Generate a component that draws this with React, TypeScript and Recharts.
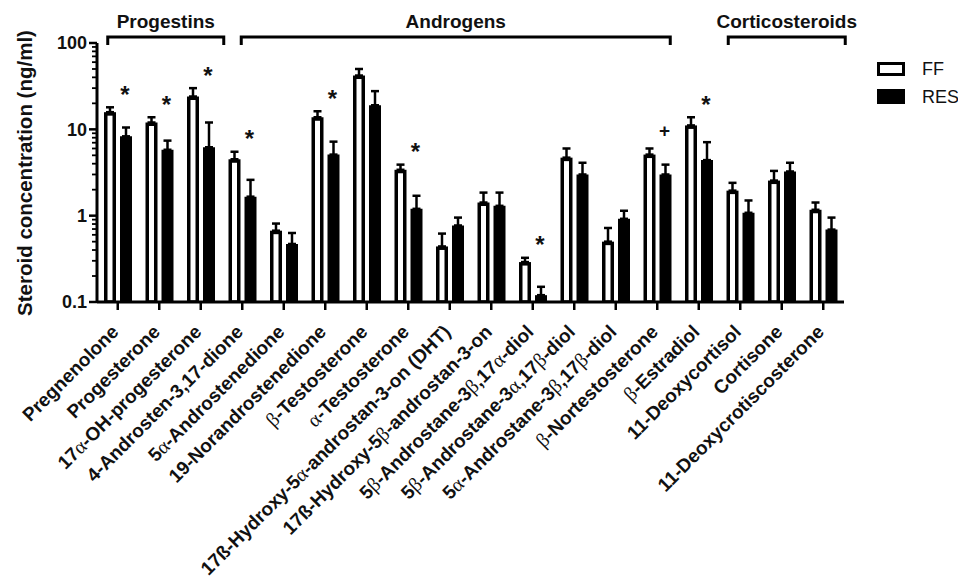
import { BarChart, Bar, XAxis, YAxis, ErrorBar, Legend } from 'recharts';

const categories = [
  'Pregnenolone',
  'Progesterone',
  '17α-OH-progesterone',
  '4-Androsten-3,17-dione',
  '5α-Androstenedione',
  '19-Norandrostenedione',
  'β-Testosterone',
  'α-Testosterone',
  '17ß-Hydroxy-5α-androstan-3-on (DHT)',
  '17ß-Hydroxy-5β-androstan-3-on',
  '5β-Androstane-3β,17α-diol',
  '5β-Androstane-3α,17β-diol',
  '5α-Androstane-3β,17β-diol',
  'β-Nortestosterone',
  'β-Estradiol',
  '11-Deoxycortisol',
  'Cortisone',
  '11-Deoxycrotiscosterone',
];

// ng/ml, mean and upper error (SEM)
const ffMean = [15.8, 12, 24, 4.5, 0.67, 13.8, 42, 3.4, 0.44, 1.42, 0.29, 4.7, 0.5, 5.1, 11.1, 1.95, 2.55, 1.17];
const ffSem = [2.2, 1.8, 6, 1.0, 0.14, 2.4, 8, 0.5, 0.18, 0.43, 0.035, 1.3, 0.22, 0.9, 2.7, 0.45, 0.75, 0.25];
const resMean = [8.3, 5.8, 6.2, 1.66, 0.47, 5.1, 19, 1.2, 0.77, 1.3, 0.12, 3.0, 0.92, 3.0, 4.4, 1.08, 3.25, 0.69];
const resSem = [2.2, 1.6, 5.8, 0.94, 0.16, 2.1, 8.7, 0.5, 0.18, 0.55, 0.03, 1.1, 0.22, 0.9, 2.7, 0.42, 0.85, 0.26];
const sigMarks = ['*', '*', '*', '*', '', '*', '', '*', '', '', '*', '', '', '+', '*', '', '', ''];

const groups = [
  { label: 'Progestins', from: 0, to: 2 },
  { label: 'Androgens', from: 3, to: 13 },
  { label: 'Corticosteroids', from: 15, to: 17 },
];
const bracketPad = [[10, 23], [1, 13], [12, 22]];

const yTicks: number[] = [];
[0.1, 1, 10].forEach((d) => {
  for (let k = 1; k <= 9; k++) yTicks.push(+(k * d).toPrecision(3));
});
yTicks.push(100);

const data = categories.map((name, i) => ({
  name,
  ff: ffMean[i],
  ffErr: [0, ffSem[i]],
  res: resMean[i],
  resErr: [0, resSem[i]],
  sig: sigMarks[i],
}));

const W = 950;
const H = 568;
const margin = { top: 35, right: 114, bottom: 14, left: 9 };
const Y_AXIS_W = 80;
const plotLeft = margin.left + Y_AXIS_W;
const plotRight = W - margin.right;
const band = (plotRight - plotLeft) / categories.length;
const center = (i: number) => plotLeft + (i + 0.5) * band;

const FONT = '"Liberation Sans", Arial, Helvetica, sans-serif';
const GREEK = /([αβ])/;

function XTick(props: any) {
  const { x, y, payload } = props;
  const ax = x + 2;
  const ay = y + 21;
  const parts = String(payload.value).split(GREEK).filter((p) => p !== '');
  return (
    <text
      x={ax}
      y={ay}
      transform={`rotate(-45, ${ax}, ${ay})`}
      textAnchor="end"
      fontFamily={FONT}
      fontWeight="bold"
      fontSize={19}
      fill="#111"
    >
      {parts.map((p, k) =>
        p === 'α' || p === 'β' ? (
          <tspan key={k} fontFamily='"Liberation Serif", "DejaVu Serif", serif' fontWeight="normal" fontSize={20}>
            {p}
          </tspan>
        ) : (
          <tspan key={k}>{p}</tspan>
        )
      )}
    </text>
  );
}

function YTick(props: any) {
  const { x, y, payload } = props;
  const v = payload.value;
  const major = Math.abs(Math.log10(v) - Math.round(Math.log10(v))) < 1e-6;
  const len = major ? 8 : 5;
  return (
    <g>
      <line x1={x - len} x2={x} y1={y} y2={y} stroke="#000" strokeWidth={major ? 2.5 : 1.8} />
      {major && (
        <text x={x - 10} y={y} dy="0.36em" textAnchor="end" fontFamily={FONT} fontWeight="bold" fontSize={18} fill="#111">
          {v}
        </text>
      )}
    </g>
  );
}

function FFShape(props: any) {
  const { x, y, width, height, payload } = props;
  const sw = 3.5;
  const pxPerDec = height / (Math.log10(payload.ff) + 1);
  const errTop = y - pxPerDec * Math.log10((payload.ff + payload.ffErr[1]) / payload.ff);
  const mx = x + width + 9;
  const my = errTop - 18;
  return (
    <g>
      <rect
        x={x + sw / 2}
        y={y + sw / 2}
        width={width - sw}
        height={Math.max(height - sw / 2, 0)}
        fill="#fff"
        stroke="#000"
        strokeWidth={sw}
      />
      {payload.sig === '*' && (
        <text x={mx} y={my + 13.5} textAnchor="middle" fontFamily={FONT} fontWeight="bold" fontSize={24} fill="#111">
          *
        </text>
      )}
      {payload.sig === '+' && (
        <text x={mx} y={my + 6.5} textAnchor="middle" fontFamily={FONT} fontWeight="bold" fontSize={19} fill="#111">
          +
        </text>
      )}
    </g>
  );
}

function LegendBox() {
  return (
    <svg width={110} height={56} style={{ overflow: 'visible', display: 'block' }}>
      <rect x={1.5} y={1.5} width={25} height={11} fill="#fff" stroke="#000" strokeWidth={3} />
      <text x={45} y={7} dy="0.36em" fontFamily={FONT} fontSize={18} fill="#111">FF</text>
      <rect x={0} y={27} width={28} height={15} fill="#000" />
      <text x={45} y={34.5} dy="0.36em" fontFamily={FONT} fontSize={18} fill="#111">RES</text>
    </svg>
  );
}

export default function App() {
  return (
    <div style={{ position: 'relative', width: W, height: H, fontFamily: FONT }}>
      <style>{'.recharts-surface { overflow: visible; }'}</style>
      <BarChart width={W} height={H} data={data} margin={margin} barSize={12} barGap={4}>
        <XAxis
          dataKey="name"
          interval={0}
          height={260}
          tick={<XTick />}
          tickSize={8}
          tickLine={{ stroke: '#000', strokeWidth: 2.5 }}
          axisLine={{ stroke: '#000', strokeWidth: 3 }}
        />
        <YAxis
          scale="log"
          type="number"
          domain={[0.1, 100]}
          allowDataOverflow
          ticks={yTicks}
          interval={0}
          width={Y_AXIS_W}
          tickLine={false}
          tickSize={0}
          tickMargin={0}
          tick={<YTick />}
          axisLine={{ stroke: '#000', strokeWidth: 3 }}
        />
        <Legend
          layout="horizontal"
          verticalAlign="middle"
          align="center"
          content={() => <LegendBox />}
          wrapperStyle={{ top: 54, left: 869, width: 110, height: 56 }}
        />
        <Bar dataKey="ff" name="FF" shape={<FFShape />} isAnimationActive={false}>
          <ErrorBar dataKey="ffErr" direction="y" width={4} strokeWidth={2.5} stroke="#000" />
        </Bar>
        <Bar dataKey="res" name="RES" fill="#000" isAnimationActive={false}>
          <ErrorBar dataKey="resErr" direction="y" width={4} strokeWidth={2.5} stroke="#000" />
        </Bar>
      </BarChart>
      <svg width={W} height={H} style={{ position: 'absolute', left: 0, top: 0, pointerEvents: 'none' }}>
        {groups.map((g, i) => {
          const x1 = center(g.from) - bracketPad[i][0];
          const x2 = center(g.to) + bracketPad[i][1];
          return (
            <g key={g.label}>
              <path d={`M${x1},37 L${x1},29 L${x2},29 L${x2},37`} fill="none" stroke="#000" strokeWidth={3} />
              <text x={(x1 + x2) / 2} y={20} textAnchor="middle" fontFamily={FONT} fontWeight="bold" fontSize={19} fill="#111">
                {g.label}
              </text>
            </g>
          );
        })}
        <text
          x={24}
          y={165}
          transform="rotate(-90, 24, 165)"
          textAnchor="middle"
          fontFamily={FONT}
          fontWeight="bold"
          fontSize={20.5}
          fill="#111"
        >
          Steroid concentration (ng/ml)
        </text>
      </svg>
    </div>
  );
}
